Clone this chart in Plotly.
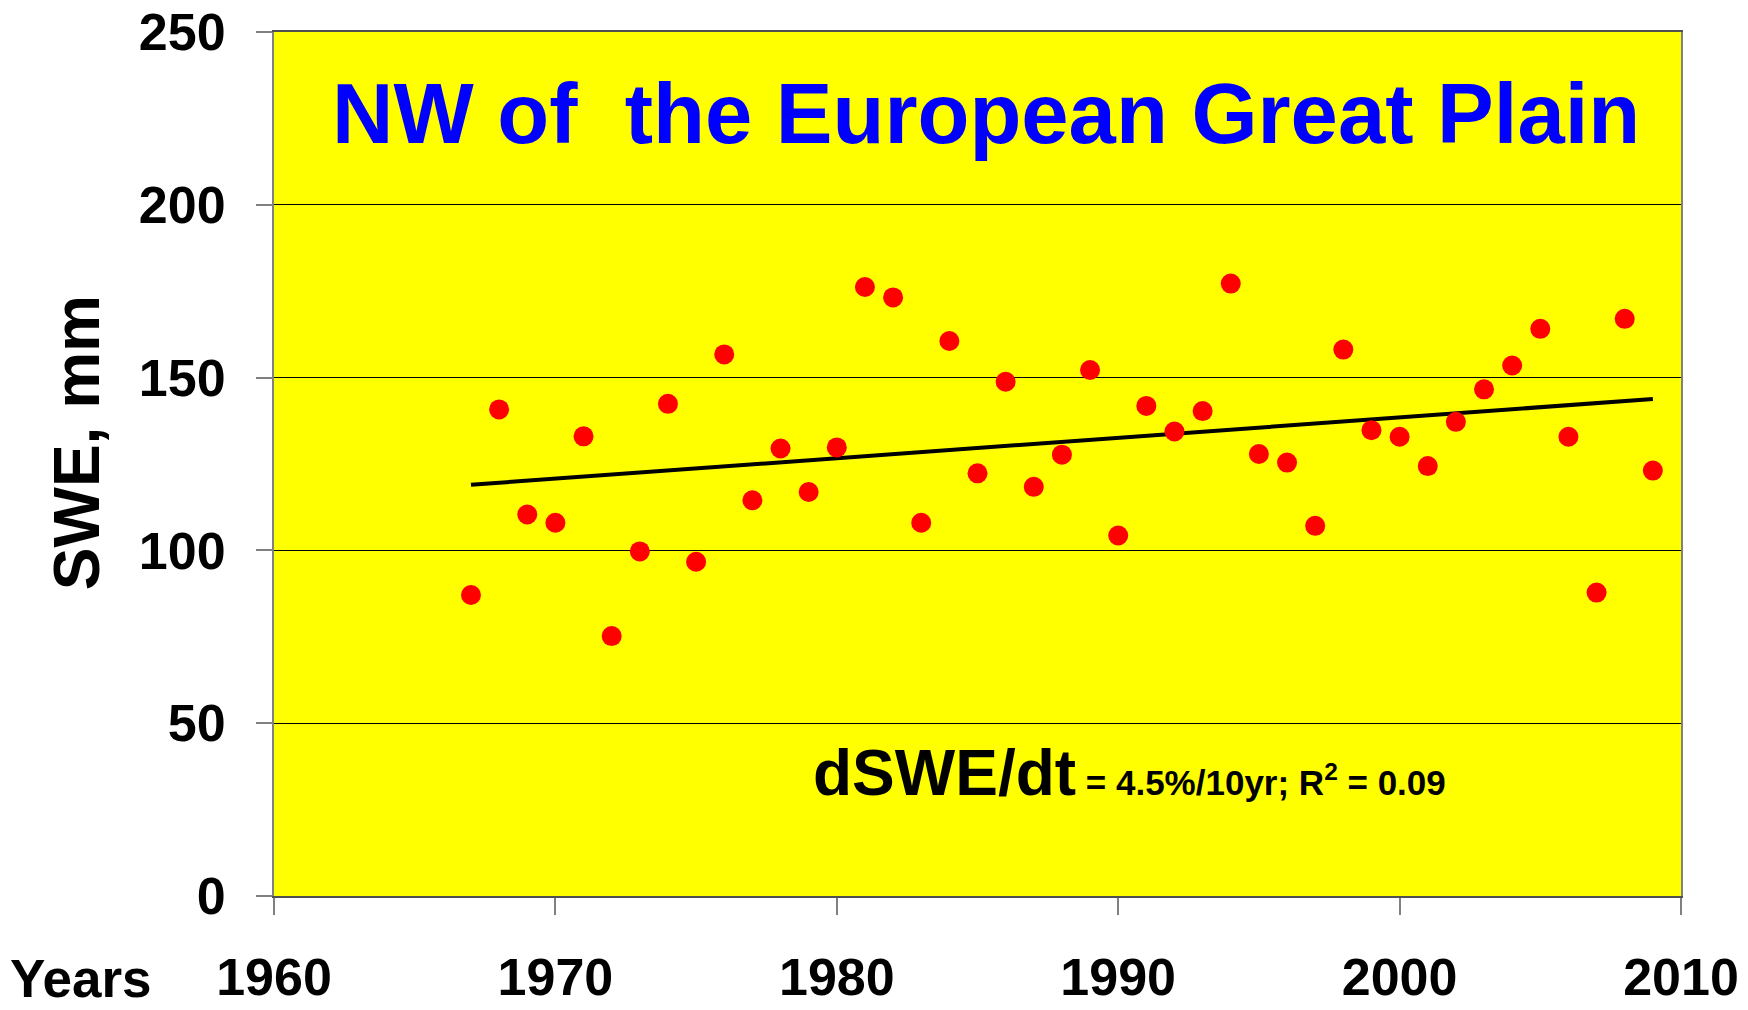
import plotly.graph_objects as go

# SWE values, one per winter
years = list(range(1967, 2010))
swe_mm = [87.1, 140.8, 110.4, 108.0, 133.0, 75.2, 99.7, 142.4, 96.7, 156.7,
          114.5, 129.5, 116.9, 129.8, 176.2, 173.2, 108.0, 160.6, 122.3, 148.8,
          118.4, 127.7, 152.2, 104.3, 141.8, 134.4, 140.3, 177.2, 127.9, 125.4,
          107.1, 158.1, 134.8, 132.9, 124.4, 137.2, 146.6, 153.5, 164.1, 132.9,
          87.8, 167.0, 123.1]

# linear trend end points (as drawn)
trend_years = [1967, 2009]
trend_swe = [119.0, 143.8]

x_ticks = [1960, 1970, 1980, 1990, 2000, 2010]
y_ticks = [0, 50, 100, 150, 200, 250]

FONT = "Liberation Sans, Arial, sans-serif"

fig = go.Figure()

fig.add_trace(go.Scatter(x=trend_years, y=trend_swe, mode='lines',
                         line=dict(color='black', width=4), hoverinfo='skip'))
fig.add_trace(go.Scatter(x=years, y=swe_mm, mode='markers',
                         marker=dict(color='#FF0000', size=20, line=dict(width=0))))

# page body adds ~8px margin, so the figure is a bit smaller than the window
fig.update_layout(
    width=1740, height=1002,
    margin=dict(l=266, r=67, t=24, b=114),
    paper_bgcolor='white', plot_bgcolor='#FFFF00',
    showlegend=False,
    font=dict(family=FONT, color='black'),
)

fig.update_xaxes(range=[1960, 2010], tickvals=x_ticks, ticks='outside', ticklen=17,
                 tickcolor='#808080', tickwidth=1.5, showgrid=False, zeroline=False,
                 showline=True, linecolor='#505050', linewidth=2, mirror=True,
                 tickfont=dict(size=52, family=FONT, color='black', weight='bold'),
                 ticklabelstandoff=18, automargin=False, ticklabeloverflow='allow')
fig.update_yaxes(range=[0, 250], tickvals=y_ticks, ticks='outside', ticklen=16,
                 tickcolor='#808080', tickwidth=1.5, showgrid=True, gridcolor='black',
                 gridwidth=1, zeroline=False,
                 showline=True, linecolor='#808080', linewidth=2, mirror=True,
                 tickfont=dict(size=52, family=FONT, color='black', weight='bold'),
                 ticklabelstandoff=20, automargin=False, ticklabeloverflow='allow')

# plot title inside the box
fig.add_annotation(x=1985.3, y=226.3, xref='x', yref='y', showarrow=False,
                   text='<b>NW of&nbsp; the European Great Plain</b>',
                   font=dict(size=85, color='#0000FF', family=FONT),
                   xanchor='center', yanchor='middle')

# trend text
fig.add_annotation(x=1979.08, y=35.7, xref='x', yref='y', showarrow=False,
                   text='<b><span style="font-size:64px">dSWE/dt</span> = 4.5%/10yr; R<sup>2</sup> = 0.09</b>',
                   font=dict(size=35, color='black', family=FONT),
                   xanchor='left', yanchor='middle')

# axis titles
fig.add_annotation(x=-0.1404, y=0.5246, xref='paper', yref='paper', showarrow=False,
                   text='<b>SWE, mm</b>', textangle=-90,
                   font=dict(size=64, color='black', family=FONT),
                   xanchor='center', yanchor='middle')
fig.add_annotation(x=-0.1894, y=-0.096, xref='paper', yref='paper', showarrow=False,
                   text='<b>Years</b>',
                   font=dict(size=53, color='black', family=FONT),
                   xanchor='left', yanchor='middle')

fig.write_html("out.html")
